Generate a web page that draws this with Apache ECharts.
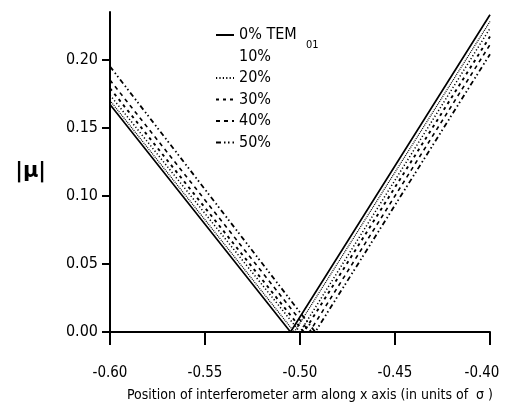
<!DOCTYPE html>
<html>
<head>
<meta charset="utf-8">
<script src="https://cdn.jsdelivr.net/npm/echarts@6/dist/echarts.min.js"></script>
<style>
html,body{margin:0;padding:0;background:#fff;}
#chart{width:505px;height:411px;}
</style>
</head>
<body>
<div id="chart"></div>
<script>
// series names (TEM01 fraction)
var names = ['0% TEM', '10%', '20%', '30%', '40%', '50%'];
// V shaped curves: value at left edge, position of the minimum, value at right edge
var xLeft = -0.60;
var xRight = -0.40;
var leftVals = [0.167, 0.170, 0.174, 0.179, 0.185, 0.195];
var vertexX = [-0.505, -0.503, -0.500, -0.498, -0.495, -0.492];
var rightVals = [0.233, 0.228, 0.223, 0.217, 0.211, 0.204];
var yTicks = [0, 0.05, 0.10, 0.15, 0.20];

var dashes = ['solid', [1, 1], [1.2, 2.2], [3, 4], [4, 4], [5, 3, 1.5, 2.5, 1.5, 3]];
var widths = [1.7, 1.2, 1.5, 1.9, 1.6, 1.8];
var font = "'Liberation Sans Narrow', 'DejaVu Sans Condensed', sans-serif";

var chart = echarts.init(document.getElementById('chart'));

var series = [];
for (var i = 0; i < names.length; i++) {
	series.push({
		name: names[i],
		type: 'line',
		symbol: 'none',
		animation: false,
		itemStyle: {color: '#000'},
		lineStyle: {color: '#000', width: widths[i], type: dashes[i]},
		data: [[xLeft, leftVals[i]], [vertexX[i], 0], [xRight, rightVals[i]]]
	});
}

// 10% has no visible sample in the original legend
var legendData = names.map(function (n, i) {
	if (i == 1) return {name: n, lineStyle: {opacity: 0}};
	return {name: n};
});

chart.setOption({
	backgroundColor: '#fff',
	grid: {left: 110, right: 15, top: 12, bottom: 79, outerBoundsMode: 'none'},
	legend: {
		orient: 'vertical',
		left: 210,
		top: 22,
		itemWidth: 18,
		itemHeight: 14,
		itemGap: 5.5,
		data: legendData,
		itemStyle: {opacity: 0},
		textStyle: {fontFamily: font, fontSize: 16, color: '#000'}
	},
	graphic: [{
		type: 'text', left: 306, top: 40,
		style: {text: '01', font: '11px ' + font, fill: '#000'}
	}],
	xAxis: {
		type: 'value',
		min: -0.60, max: -0.40, interval: 0.05,
		name: 'Position of interferometer arm along x axis (in units of  σ )',
		nameLocation: 'middle',
		nameGap: 56,
		nameTextStyle: {fontFamily: font, fontSize: 14, color: '#000', padding: [0, 0, 0, 20]},
		axisLine: {onZero: false, lineStyle: {color: '#000', width: 2}},
		axisTick: {length: 13, lineStyle: {color: '#000', width: 2}},
		axisLabel: {margin: 34, fontFamily: font, fontSize: 15, color: '#000',
			formatter: function (v) {
				if (v > -0.401) return '{r|' + v.toFixed(2) + '}';
				return v.toFixed(2);
			},
			rich: {r: {fontFamily: font, fontSize: 15, color: '#000', padding: [0, 16, 0, 0]}}},
		splitLine: {show: false}
	},
	yAxis: {
		type: 'value',
		min: 0, max: 0.235,
		name: '|μ|',
		nameLocation: 'middle',
		nameRotate: 0,
		nameGap: 64,
		nameTextStyle: {fontFamily: 'DejaVu Sans', fontSize: 21, fontWeight: 'bold', color: '#000', padding: [0, 0, 12, 0]},
		axisLine: {show: true, lineStyle: {color: '#000', width: 2}},
		axisTick: {length: 8, customValues: yTicks, lineStyle: {color: '#000', width: 2}},
		axisLabel: {margin: 12, customValues: yTicks, fontFamily: font, fontSize: 16, color: '#000',
			formatter: function (v) { return v.toFixed(2); }},
		splitLine: {show: false}
	},
	series: series
});
</script>
</body>
</html>
